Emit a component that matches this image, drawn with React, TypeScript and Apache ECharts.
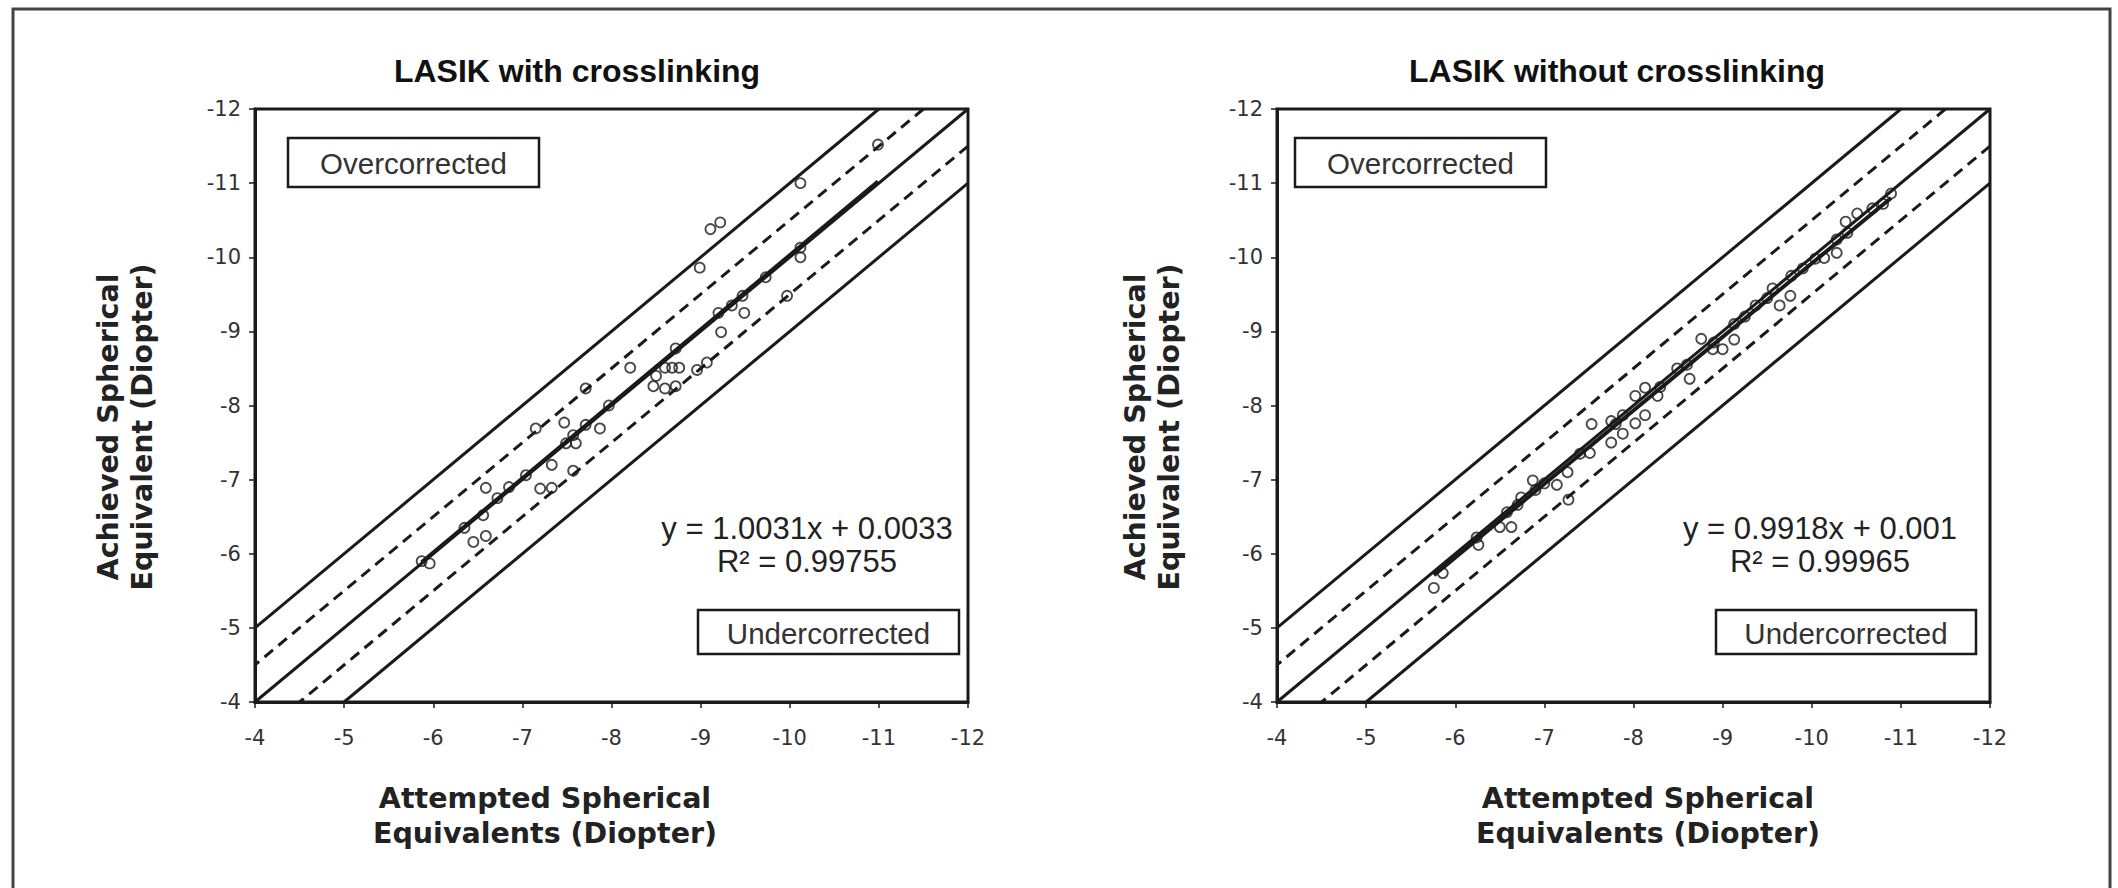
import { useEffect, useRef } from "react";
import * as echarts from "echarts";

// Attempted vs achieved spherical equivalent (D), LASIK with crosslinking
const withAttempted = [
  -10.99, -10.12, -9.11, -9.22, -8.99, -10.12, -10.12, -9.73, -9.47, -9.49, -9.2, -9.23,
  -9.35, -9.97, -8.72, -8.6, -8.68, -8.76, -8.5, -8.47, -8.6, -8.72, -8.21, -8.96,
  -9.07, -7.97, -7.71, -7.15, -7.47, -7.71, -7.87, -7.57, -7.49, -7.6, -7.33, -7.57,
  -7.04, -7.2, -7.33, -6.85, -6.59, -6.72, -6.56, -6.35, -6.45, -6.59, -5.87, -5.96,
];
const withAchieved = [
  -11.52, -11.0, -10.38, -10.47, -9.86, -10.13, -10.0, -9.73, -9.48, -9.25, -9.25, -8.99,
  -9.35, -9.48, -8.77, -8.51, -8.51, -8.51, -8.4, -8.26, -8.23, -8.26, -8.51, -8.48,
  -8.58, -8.0, -8.23, -7.69, -7.77, -7.74, -7.69, -7.6, -7.49, -7.49, -7.2, -7.12,
  -7.06, -6.88, -6.89, -6.9, -6.89, -6.75, -6.52, -6.35, -6.16, -6.24, -5.9, -5.87,
];

// Attempted vs achieved spherical equivalent (D), LASIK without crosslinking
const withoutAttempted = [
  -5.76, -5.86, -6.26, -6.24, -6.5, -6.63, -6.58, -6.74, -6.87, -6.9, -7.14, -7.26,
  -7.27, -7.51, -7.53, -7.75, -7.75, -7.88, -7.88, -8.02, -8.02, -8.13, -8.13, -8.27,
  -8.49, -8.63, -8.76, -8.89, -9.0, -9.13, -9.13, -9.37, -9.64, -9.76, -9.56, -9.77,
  -10.04, -10.14, -10.28, -10.28, -10.38, -10.51, -10.68, -10.89, -6.7, -7.0, -7.4, -7.8,
  -8.3, -8.6, -8.9, -9.25, -9.5, -9.9, -10.4, -10.8,
];
const withoutAchieved = [
  -5.54, -5.74, -6.12, -6.22, -6.36, -6.36, -6.56, -6.76, -6.99, -6.86, -6.93, -7.1,
  -6.73, -7.36, -7.75, -7.5, -7.79, -7.62, -7.87, -7.76, -8.13, -7.87, -8.24, -8.13,
  -8.5, -8.36, -8.9, -8.76, -8.76, -8.89, -9.1, -9.35, -9.35, -9.48, -9.58, -9.75,
  -9.98, -9.99, -10.06, -10.24, -10.48, -10.59, -10.66, -10.86, -6.66, -6.95, -7.35, -7.75,
  -8.25, -8.55, -8.85, -9.2, -9.45, -9.85, -10.33, -10.72,
];

// Linear fits reported on each panel
const fitSlopes = ["1.0031", "0.9918"];
const fitIntercepts = ["0.0033", "0.001"];
const fitR2 = ["0.99755", "0.99965"];

const panelTitles = ["LASIK with crosslinking", "LASIK without crosslinking"];

// Reference lines y = x + offset (identity, ±0.5 D dashed, ±1 D solid)
const bandOffsets = [-1, -0.5, 0, 0.5, 1];

const axisMin = -12;
const axisMax = -4;

const INK = "#1a1a1a";

type Panel = {
  title: string;
  x: number[];
  y: number[];
  slope: string;
  intercept: string;
  r2: string;
  left: number;
  titleX: number;
  yTitleX: number;
  xTitleX: number;
  overBox: [number, number];
  underBox: [number, number];
  eqX: number;
};

const GRID_TOP = 109;
const GRID_W = 713;
const GRID_H = 593;

const panels: Panel[] = [
  {
    title: panelTitles[0],
    x: withAttempted,
    y: withAchieved,
    slope: fitSlopes[0],
    intercept: fitIntercepts[0],
    r2: fitR2[0],
    left: 255,
    titleX: 577,
    yTitleX: 125,
    xTitleX: 545,
    overBox: [288, 539],
    underBox: [698, 959],
    eqX: 807,
  },
  {
    title: panelTitles[1],
    x: withoutAttempted,
    y: withoutAchieved,
    slope: fitSlopes[1],
    intercept: fitIntercepts[1],
    r2: fitR2[1],
    left: 1277,
    titleX: 1617,
    yTitleX: 1152,
    xTitleX: 1648,
    overBox: [1295, 1546],
    underBox: [1716, 1976],
    eqX: 1820,
  },
];

function bandLine(offset: number): number[][] {
  const x0 = Math.max(axisMin, axisMin - offset);
  const x1 = Math.min(axisMax, axisMax - offset);
  return [
    [x0, x0 + offset],
    [x1, x1 + offset],
  ];
}

function buildOption(): echarts.EChartsCoreOption {
  const grid: any[] = [];
  const xAxis: any[] = [];
  const yAxis: any[] = [];
  const series: any[] = [];
  const graphic: any[] = [];

  // outer frame of the figure
  graphic.push({
    type: "polyline",
    silent: true,
    shape: {
      points: [
        [13, 900],
        [13, 9],
        [2110, 9],
        [2110, 900],
      ],
    },
    style: { stroke: "#444", lineWidth: 3, fill: null },
  });

  panels.forEach((p, i) => {
    grid.push({
      left: p.left,
      top: GRID_TOP,
      width: GRID_W,
      height: GRID_H,
      show: true,
      backgroundColor: "#fff",
      borderColor: INK,
      borderWidth: 3,
      containLabel: false,
    });
    const axisCommon = {
      type: "value",
      gridIndex: i,
      min: axisMin,
      max: axisMax,
      interval: 1,
      inverse: true,
      splitLine: { show: false },
      axisLine: { show: true, onZero: false, lineStyle: { color: INK, width: 3 } },
      axisTick: { show: true, inside: false, length: 6, lineStyle: { color: INK, width: 1.5 } },
    };
    xAxis.push({
      ...axisCommon,
      position: "bottom",
      axisLabel: {
        color: "#333",
        fontFamily: "DejaVu Sans",
        fontSize: 21,
        margin: 25,
      },
    });
    yAxis.push({
      ...axisCommon,
      position: "left",
      axisLabel: {
        color: "#333",
        fontFamily: "DejaVu Sans",
        fontSize: 21,
        margin: 14,
      },
    });

    bandOffsets.forEach((off) => {
      const dashed = Math.abs(off) === 0.5;
      series.push({
        type: "line",
        xAxisIndex: i,
        yAxisIndex: i,
        data: bandLine(off),
        symbol: "none",
        silent: true,
        lineStyle: {
          color: INK,
          width: 3,
          type: dashed ? [11, 7] : "solid",
        },
        z: 2,
      });
    });

    // least-squares trendline over the range of attempted values
    const slope = parseFloat(p.slope);
    const intercept = parseFloat(p.intercept);
    const xLo = Math.max(...p.x);
    const xHi = Math.min(...p.x);
    series.push({
      type: "line",
      xAxisIndex: i,
      yAxisIndex: i,
      data: [
        [xLo, slope * xLo + intercept],
        [xHi, slope * xHi + intercept],
      ],
      symbol: "none",
      silent: true,
      lineStyle: { color: INK, width: 4 },
      z: 3,
    });

    series.push({
      type: "scatter",
      xAxisIndex: i,
      yAxisIndex: i,
      data: p.x.map((v, k) => [v, p.y[k]]),
      symbol: "circle",
      symbolSize: 10,
      itemStyle: { color: "rgba(255,255,255,0)", borderColor: INK, borderWidth: 1.8 },
      z: 4,
    });

    // panel title
    graphic.push({
      type: "text",
      x: p.titleX,
      y: 71,
      style: {
        text: p.title,
        fontFamily: "Liberation Sans, Arial",
        fontWeight: "bold",
        fontSize: 32,
        fill: "#111",
        textAlign: "center",
        textVerticalAlign: "middle",
      },
    });

    // y-axis title (rotated, two lines)
    graphic.push({
      type: "text",
      x: p.yTitleX,
      y: 427,
      rotation: Math.PI / 2,
      style: {
        text: "Achieved Spherical\nEquivalent (Diopter)",
        fontFamily: "DejaVu Sans",
        fontWeight: "bold",
        fontSize: 28.5,
        lineHeight: 34,
        fill: "#222",
        textAlign: "center",
        textVerticalAlign: "middle",
      },
    });

    // x-axis title (two lines)
    graphic.push({
      type: "text",
      x: p.xTitleX,
      y: 816,
      style: {
        text: "Attempted Spherical\nEquivalents (Diopter)",
        fontFamily: "DejaVu Sans",
        fontWeight: "bold",
        fontSize: 28.5,
        lineHeight: 35,
        fill: "#222",
        textAlign: "center",
        textVerticalAlign: "middle",
      },
    });

    // region labels
    const boxes: [string, [number, number], number, number][] = [
      ["Overcorrected", p.overBox, 138, 187],
      ["Undercorrected", p.underBox, 610, 654],
    ];
    boxes.forEach(([label, [bx0, bx1], by0, by1]) => {
      graphic.push({
        type: "rect",
        shape: { x: bx0, y: by0, width: bx1 - bx0, height: by1 - by0 },
        style: { fill: "#fff", stroke: INK, lineWidth: 2.5 },
        z: 10,
      });
      graphic.push({
        type: "text",
        x: (bx0 + bx1) / 2,
        y: (by0 + by1) / 2 + 1,
        z: 11,
        style: {
          text: label,
          fontFamily: "Liberation Sans, Arial",
          fontSize: 29.5,
          fill: "#333",
          textAlign: "center",
          textVerticalAlign: "middle",
        },
      });
    });

    // fit equation and coefficient of determination
    const eqLines = [`y = ${p.slope}x + ${p.intercept}`, `R² = ${p.r2}`];
    eqLines.forEach((line, k) => {
      graphic.push({
        type: "text",
        x: p.eqX,
        y: 528 + k * 33,
        z: 11,
        style: {
          text: line,
          fontFamily: "Liberation Sans, Arial",
          fontSize: 31,
          fill: "#222",
          textAlign: "center",
          textVerticalAlign: "middle",
        },
      });
    });
  });

  return {
    animation: false,
    backgroundColor: "#fff",
    grid,
    xAxis,
    yAxis,
    series,
    graphic,
  };
}

export default function App() {
  const ref = useRef<HTMLDivElement>(null);
  useEffect(() => {
    if (!ref.current) return;
    const chart = echarts.init(ref.current, undefined, { renderer: "svg" });
    chart.setOption(buildOption());
    return () => chart.dispose();
  }, []);
  return (
    <div
      ref={ref}
      style={{ position: "fixed", left: 0, top: 0, width: 2118, height: 888, background: "#fff" }}
    />
  );
}
